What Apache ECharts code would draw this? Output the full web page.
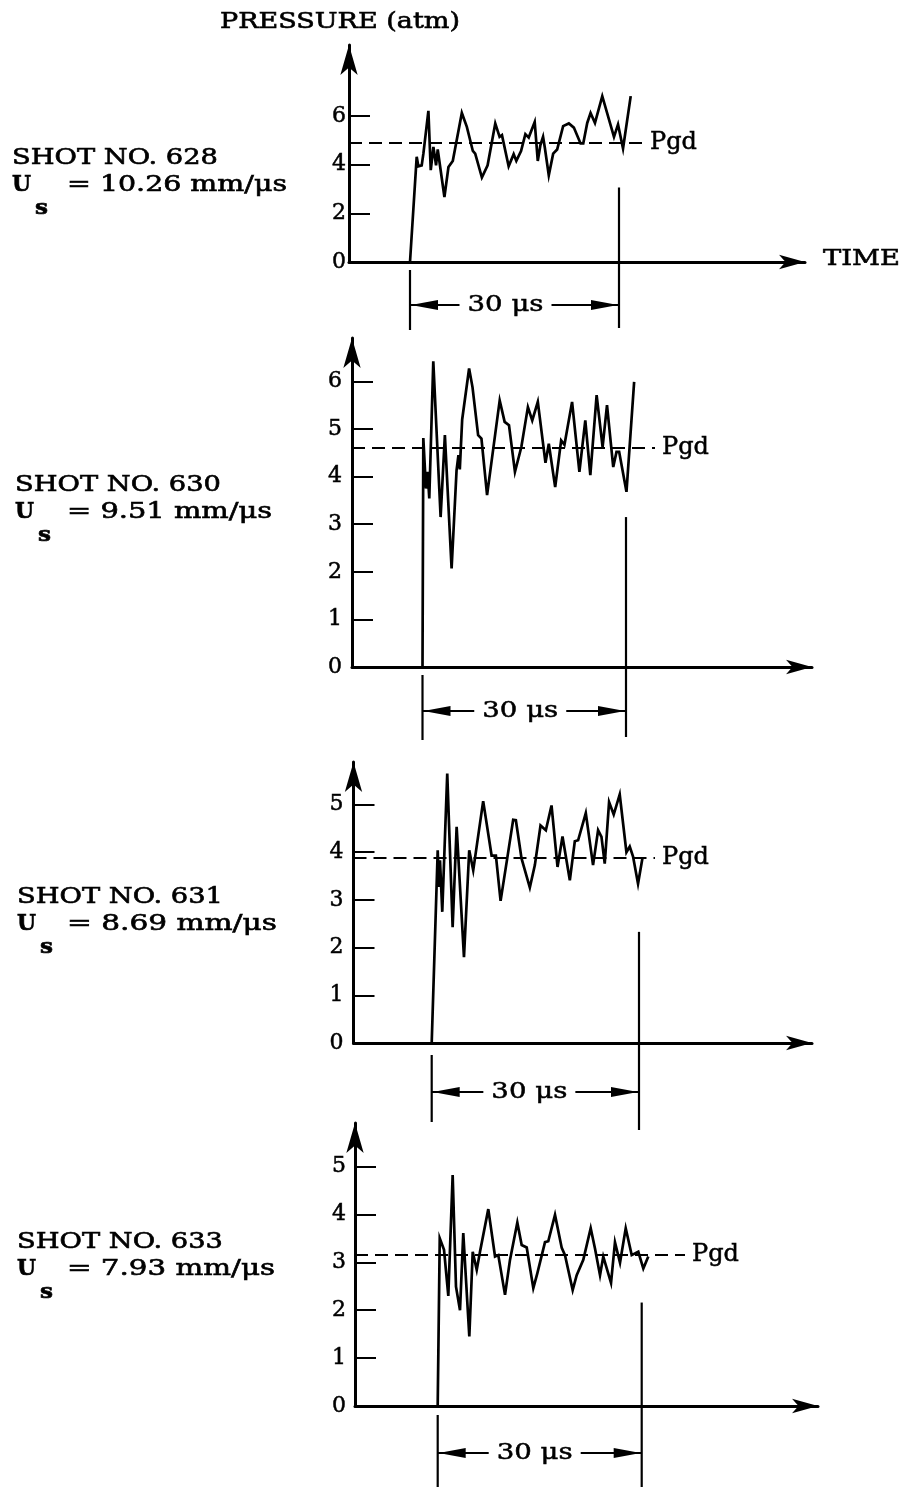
<!DOCTYPE html>
<html><head><meta charset="utf-8">
<script src="https://cdn.jsdelivr.net/npm/echarts@6/dist/echarts.min.js"></script>
<style>html,body{margin:0;padding:0;background:#fff}#c{width:906px;height:1487px}</style>
</head><body><div id="c"></div>
<script>
// ---------------- data ----------------
const shotNos = ['628', '630', '631', '633'];
const shockSpeeds = ['10.26', '9.51', '8.69', '7.93'];   // Us, mm/µs
const pgd = [4.89, 4.61, 3.89, 3.15];                     // atm
const yTicks628 = [0, 2, 4, 6];
const yTicks630 = [0, 1, 2, 3, 4, 5, 6];
const yTicks631 = [0, 1, 2, 3, 4, 5];
const yTicks633 = [0, 1, 2, 3, 4, 5];
const spanUs = [0, 30];                                   // "30 µs" dimension
const markerTop = [3.06, 3.15, 2.33, 2.16];              // top of 30 µs marker (atm)

const t628 = [0, 0.96, 1.2, 1.68, 1.92, 2.64, 2.98, 3.36, 3.74, 3.98, 4.94, 5.52, 6.14, 7.44, 8.16, 9.02, 9.36, 10.32, 11.14, 12.24, 12.86, 13.2, 14.16, 14.88, 15.26, 15.94, 16.56, 17.04, 17.9, 18.34, 18.72, 19.1, 19.35, 19.92, 20.55, 21.12, 21.98, 22.8, 23.52, 24.48, 24.87, 25.44, 25.92, 26.55, 27.6, 29.28, 29.86, 30.58, 31.68];
const p628 = [0, 4.32, 3.93, 3.97, 4.45, 6.21, 3.77, 4.73, 3.97, 4.62, 2.67, 3.9, 4.15, 6.12, 5.55, 4.56, 4.45, 3.47, 3.97, 5.69, 5.14, 5.21, 3.93, 4.43, 4.15, 4.56, 5.25, 5.11, 5.75, 4.15, 4.8, 5.14, 4.7, 3.56, 4.45, 4.62, 5.58, 5.69, 5.52, 4.87, 4.87, 5.71, 6.12, 5.71, 6.81, 5.14, 5.65, 4.66, 6.81];

const t630 = [0, 0.12, 0.51, 0.76, 1.0, 1.59, 2.67, 3.3, 4.29, 5.02, 5.3, 5.5, 5.85, 6.87, 7.37, 8.2, 8.69, 9.52, 11.38, 12.11, 12.75, 13.63, 14.57, 15.54, 16.18, 17.0, 18.13, 18.62, 19.56, 20.44, 20.93, 22.05, 23.13, 24.0, 24.74, 25.67, 26.55, 27.2, 28.12, 28.6, 28.99, 30.07, 31.2];
const p630 = [0, 4.81, 3.75, 4.1, 3.54, 6.42, 3.15, 4.87, 2.07, 4.13, 4.45, 4.15, 5.2, 6.27, 5.88, 4.87, 4.8, 3.61, 5.6, 5.15, 5.08, 4.1, 4.62, 5.46, 5.18, 5.57, 4.29, 4.69, 3.78, 4.76, 4.67, 5.57, 4.1, 5.18, 4.03, 5.71, 4.62, 5.5, 4.2, 4.52, 4.52, 3.68, 5.99];

const t631 = [0, 0.87, 1.05, 1.2, 1.53, 2.25, 3.03, 3.61, 4.67, 5.43, 6.01, 7.45, 8.67, 9.29, 9.97, 10.93, 11.79, 12.18, 13.0, 14.2, 14.93, 15.75, 16.52, 17.34, 18.21, 18.93, 19.99, 20.71, 21.19, 22.3, 23.35, 24.08, 24.57, 25.04, 25.67, 26.34, 27.21, 28.18, 28.66, 29.14, 29.86, 30.49];
const p631 = [0, 4.04, 3.27, 3.83, 2.75, 5.65, 2.43, 4.53, 1.8, 4.04, 3.62, 5.07, 3.93, 3.93, 2.98, 3.87, 4.68, 4.67, 3.87, 3.26, 3.73, 4.56, 4.46, 4.98, 3.69, 4.33, 3.41, 4.23, 4.25, 4.82, 3.73, 4.46, 4.32, 3.76, 5.05, 4.79, 5.21, 4.0, 4.12, 3.91, 3.34, 3.87];

const t633 = [0, 0.3, 0.93, 1.56, 2.2, 2.69, 3.28, 3.76, 4.65, 5.15, 5.74, 6.22, 7.44, 8.43, 8.91, 9.9, 10.63, 11.71, 12.35, 13.09, 14.06, 14.65, 15.78, 16.26, 17.25, 18.24, 18.72, 19.85, 20.44, 21.41, 22.5, 23.13, 23.87, 24.35, 25.49, 26.07, 26.81, 27.65, 28.53, 29.5, 30.24, 30.97];
const p633 = [0, 3.5, 3.26, 2.3, 4.82, 2.49, 2.0, 3.61, 1.45, 3.22, 2.84, 3.22, 4.11, 3.12, 3.15, 2.32, 3.05, 3.83, 3.36, 3.31, 2.46, 2.77, 3.42, 3.44, 3.99, 3.3, 3.15, 2.42, 2.73, 3.05, 3.71, 3.29, 2.73, 3.12, 2.57, 3.42, 2.99, 3.71, 3.15, 3.22, 2.87, 3.12];

const times = [t628, t630, t631, t633];
const pressures = [p628, p630, p631, p633];
const yTicks = [yTicks628, yTicks630, yTicks631, yTicks633];

// ---------------- layout (pixels) ----------------
const FONT = '"DejaVu Serif", "Liberation Serif", serif';
const L = [
  {L: 349, R: 805, Z: 410,   T: 619,   TOP: 45,   Y0: 262,  U: 24.35, lm: 3,  pgdEndPx: 643, shotY: 158,  tx: 12, eqW: 220, dim: {lg: 8,  lb: 68, rb: 66, ly: 43, dx: -9}},
  {L: 352, R: 812, Z: 422.5, T: 626,   TOP: 338,  Y0: 667,  U: 47.6,  lm: 10, pgdEndPx: 655, shotY: 485,  tx: 15, eqW: 205, dim: {lg: 8,  lb: 73, rb: 70, ly: 44, dx: -4}},
  {L: 353.5, R: 812, Z: 431.7, T: 639, TOP: 762,  Y0: 1043, U: 47.7,  lm: 10, pgdEndPx: 655, shotY: 897,  tx: 17, eqW: 210, dim: {lg: 12, lb: 79, rb: 87, ly: 49, dx: -6}},
  {L: 355, R: 818, Z: 437.7, T: 641.7, TOP: 1123, Y0: 1406, U: 47.9,  lm: 9,  pgdEndPx: 685, shotY: 1242, tx: 17, eqW: 208, dim: {lg: 9,  lb: 81, rb: 81, ly: 47, dx: -5}}
];

const mctx = document.createElement('canvas').getContext('2d');
function fitText(text, left, cy, width, size, weight) {
  const font = (weight || 'normal') + ' ' + size + 'px ' + FONT;
  mctx.font = font;
  const w = mctx.measureText(text).width || 1;
  return {type: 'text', x: left, y: cy, scaleX: width ? width / w : 1.15, z: 10,
    style: {text: text, font: font, fill: '#000', stroke: '#000', lineWidth: 0.6,
      align: 'left', textAlign: 'left', verticalAlign: 'middle', textVerticalAlign: 'middle'}};
}

const grids = [], xAxes = [], yAxes = [], series = [], graphics = [];

L.forEach(function (g, i) {
  const sx = (g.T - g.Z) / (spanUs[1] - spanUs[0]);
  const xMin = (g.L - g.Z) / sx, xMax = (g.R - g.Z) / sx;
  const yMax = (g.Y0 - g.TOP) / g.U;
  grids.push({left: g.L, top: g.TOP, width: g.R - g.L, height: g.Y0 - g.TOP, outerBoundsMode: 'none', containLabel: false});
  xAxes.push({gridIndex: i, type: 'value', min: xMin, max: xMax,
    axisLine: {show: true, onZero: false, symbol: ['none', 'arrow'], symbolSize: [11, 26], lineStyle: {color: '#000', width: 3}},
    axisTick: {show: false}, axisLabel: {show: false}, splitLine: {show: false}});
  yAxes.push({gridIndex: i, type: 'value', min: 0, max: yMax,
    axisLine: {show: true, onZero: false, symbol: ['none', 'arrow'], symbolSize: [13, 30], lineStyle: {color: '#000', width: 3}},
    axisTick: {show: true, inside: true, length: 21, customValues: yTicks[i], lineStyle: {color: '#000', width: 2}},
    axisLabel: {show: true, customValues: yTicks[i], margin: g.lm, color: '#000', fontFamily: FONT, fontSize: 22,
      textBorderColor: '#000', textBorderWidth: 0.5},
    splitLine: {show: false}});
  const pgdEnd = (g.pgdEndPx - g.Z) / sx;
  series.push({type: 'line', xAxisIndex: i, yAxisIndex: i, data: times[i].map(function (t, j) { return [t, pressures[i][j]]; }),
    symbol: 'none', showSymbol: false, clip: false, animation: false, z: 4,
    lineStyle: {color: '#000', width: 2.7, join: 'miter', miterLimit: 6},
    markLine: {silent: true, symbol: 'none', animation: false,
      lineStyle: {color: '#000', type: [13, 7], width: 2},
      label: {show: true, position: 'end', formatter: 'Pgd', color: '#000', fontFamily: FONT, fontSize: 24, distance: 7,
        textBorderColor: '#000', textBorderWidth: 0.5},
      data: [[{coord: [xMin, pgd[i]]}, {coord: [pgdEnd, pgd[i]]}]]}});
  const D = g.dim;
  series.push({type: 'custom', xAxisIndex: i, yAxisIndex: i, clip: false, silent: true, animation: false, z: 5,
    data: [[spanUs[0], spanUs[1], markerTop[i]]],
    renderItem: function (params, api) {
      const p0 = api.coord([api.value(0), 0]);
      const p1 = api.coord([api.value(1), api.value(2)]);
      const y0 = p0[1], xa = p0[0], xb = p1[0];
      const ly = y0 + D.ly;
      const xc = (xa + xb) / 2 + D.dx;
      const hw = 38, gap = 8;
      const st = {stroke: '#000', lineWidth: 2.2};
      mctx.font = '23px ' + FONT;
      const tw = mctx.measureText('30 μs').width || 1;
      return {type: 'group', children: [
        {type: 'line', shape: {x1: xa, y1: y0 + D.lg, x2: xa, y2: y0 + D.lb}, style: st},
        {type: 'line', shape: {x1: xb, y1: p1[1], x2: xb, y2: y0 + D.rb}, style: st},
        {type: 'line', shape: {x1: xa, y1: ly, x2: xc - hw - gap, y2: ly}, style: st},
        {type: 'line', shape: {x1: xc + hw + gap, y1: ly, x2: xb, y2: ly}, style: st},
        {type: 'polygon', shape: {points: [[xa + 1, ly], [xa + 28, ly - 5], [xa + 28, ly + 5]]}, style: {fill: '#000'}},
        {type: 'polygon', shape: {points: [[xb - 1, ly], [xb - 28, ly - 5], [xb - 28, ly + 5]]}, style: {fill: '#000'}},
        {type: 'text', x: xc, y: ly, scaleX: (2 * hw) / tw,
          style: {text: '30 μs', font: '23px ' + FONT, fill: '#000', stroke: '#000', lineWidth: 0.5,
            align: 'center', textAlign: 'center', verticalAlign: 'middle', textVerticalAlign: 'middle'}}
      ]};
    }});
  // left-hand labels
  graphics.push(fitText('SHOT NO. ' + shotNos[i], g.tx, g.shotY, 206, 22));
  graphics.push(fitText('U', g.tx, g.shotY + 27, 19, 22, 'bold'));
  graphics.push(fitText('s', g.tx + 23, g.shotY + 51, 13, 21, 'bold'));
  graphics.push(fitText('= ' + shockSpeeds[i] + ' mm/μs', 67, g.shotY + 27, g.eqW, 22));
});

graphics.push(fitText('PRESSURE (atm)', 220, 22, 240, 22));
graphics.push(fitText('TIME', 823, 259, 77, 22));

const chart = echarts.init(document.getElementById('c'), null, {renderer: 'canvas'});
chart.setOption({
  backgroundColor: '#fff',
  animation: false,
  textStyle: {fontFamily: FONT, color: '#000'},
  grid: grids, xAxis: xAxes, yAxis: yAxes, series: series,
  graphic: {elements: graphics}
});
</script>
</body></html>
